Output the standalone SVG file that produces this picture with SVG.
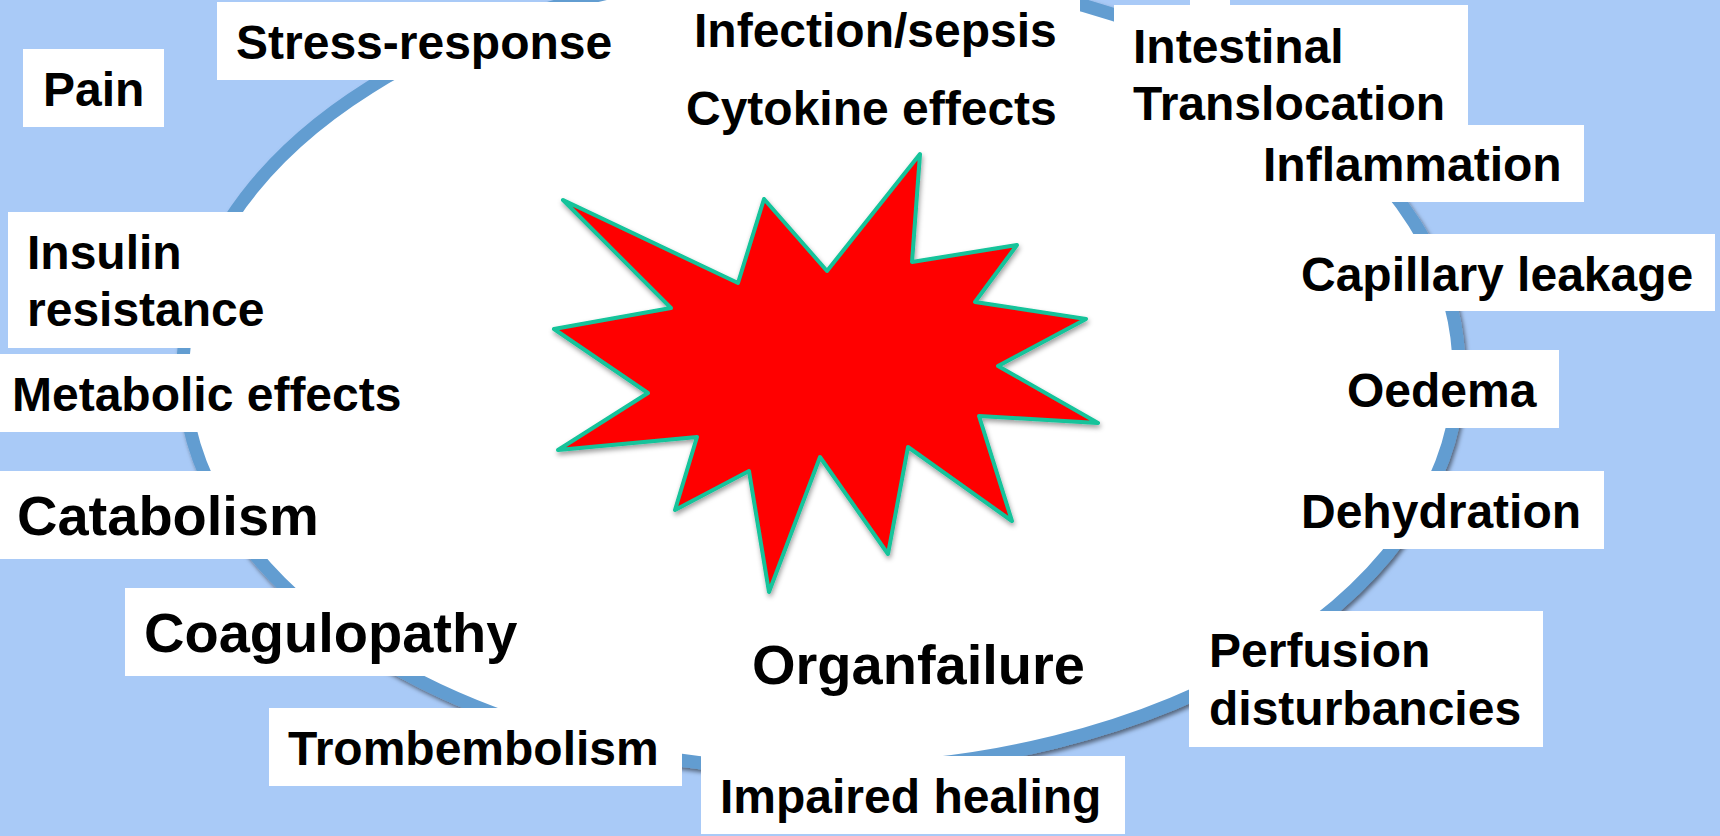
<svg xmlns="http://www.w3.org/2000/svg" width="1720" height="836" viewBox="0 0 1720 836">
<style>
.box{fill:#fff}
text{font-family:"Liberation Sans",Arial,sans-serif;font-weight:700;fill:#000;font-size:48px}
.big{font-size:56px}
</style>
<defs>
<filter id="sh" x="-10%" y="-10%" width="120%" height="120%"><feDropShadow dx="2" dy="3" stdDeviation="2" flood-color="#000" flood-opacity="0.5"/></filter>
<filter id="sh2" x="-10%" y="-10%" width="120%" height="120%"><feDropShadow dx="1" dy="3" stdDeviation="2.5" flood-color="#000" flood-opacity="0.38"/></filter>
</defs>
<rect id="background" width="1720" height="836" fill="#a9caf7"/>
<ellipse id="ring" cx="821" cy="370" rx="638" ry="400" fill="#fff" stroke="#629dd1" stroke-width="13" filter="url(#sh)"/>
<rect class="box" x="1190" y="0" width="40" height="6"/>
<g id="infection"><rect class="box" x="616" y="0" width="464" height="80"/><text x="694" y="47">Infection/sepsis</text></g>
<g id="cytokine"><rect class="box" x="666" y="80" width="414" height="70"/><text x="686" y="125">Cytokine effects</text></g>
<g id="pain"><rect class="box" x="23" y="49" width="141" height="78"/><text x="43" y="106">Pain</text></g>
<g id="stress"><rect class="box" x="217" y="2" width="420" height="78"/><text x="236" y="59">Stress-response</text></g>
<g id="intestinal"><rect class="box" x="1114" y="5" width="354" height="120"/><text x="1133" y="63">Intestinal</text><text x="1133" y="120">Translocation</text></g>
<g id="inflammation"><rect class="box" x="1245" y="125" width="339" height="77"/><text x="1263" y="181">Inflammation</text></g>
<g id="capillary"><rect class="box" x="1283" y="234" width="432" height="77"/><text x="1301" y="291">Capillary leakage</text></g>
<g id="oedema"><rect class="box" x="1328" y="350" width="231" height="78"/><text x="1347" y="407">Oedema</text></g>
<g id="dehydration"><rect class="box" x="1283" y="471" width="321" height="78"/><text x="1301" y="528">Dehydration</text></g>
<g id="perfusion"><rect class="box" x="1189" y="611" width="354" height="136"/><text x="1209" y="667">Perfusion</text><text x="1209" y="725">disturbancies</text></g>
<g id="impaired"><rect class="box" x="701" y="756" width="424" height="78"/><text x="720" y="813">Impaired healing</text></g>
<g id="organfailure"><text class="big" x="752" y="684">Organfailure</text></g>
<g id="trombembolism"><rect class="box" x="269" y="708" width="413" height="78"/><text x="288" y="765">Trombembolism</text></g>
<g id="coagulopathy"><rect class="box" x="125" y="588" width="392" height="88"/><text class="big" x="144" y="652">Coagulopathy</text></g>
<g id="catabolism"><rect class="box" x="0" y="471" width="340" height="88"/><text class="big" x="17" y="535">Catabolism</text></g>
<g id="metabolic"><rect class="box" x="0" y="354" width="420" height="78"/><text x="12" y="411">Metabolic effects</text></g>
<g id="insulin"><rect class="box" x="8" y="212" width="290" height="136"/><text x="27" y="269">Insulin</text><text x="27" y="326">resistance</text></g>
<g id="burst"><polygon points="563,200 738,283 764,199 827,271 920,154 912,262 1017,245 975,302 1086,319 998,366 1098,423 979,416 1012,521 908,447 888,554 820,457 769,592 749,471 675,510 697,437 558,450 648,393 554,329 671,308" fill="#f00" stroke="#12c39a" stroke-width="4" stroke-linejoin="round" filter="url(#sh2)"/></g>
</svg>
